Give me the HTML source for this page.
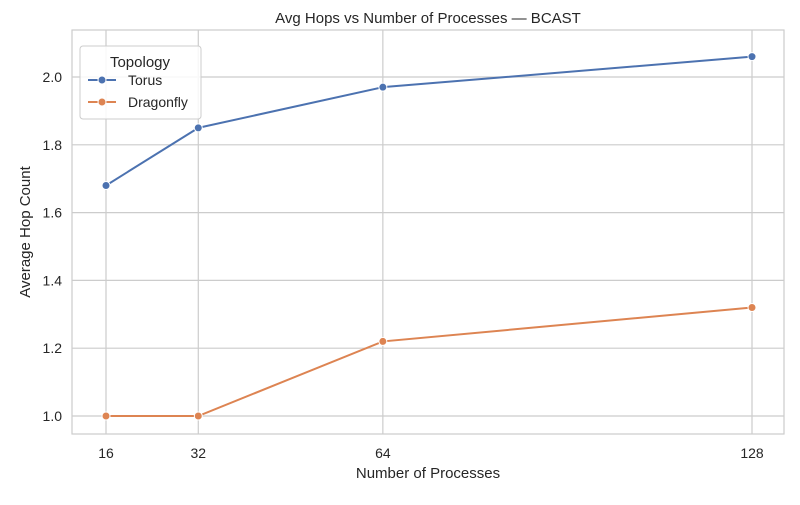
<!DOCTYPE html>
<html><head><meta charset="utf-8"><style>
body{margin:0;background:#fff;font-family:"Liberation Sans","DejaVu Sans",sans-serif;}
svg text{font-family:"Liberation Sans","DejaVu Sans",sans-serif;fill:#262626;}
</style></head><body>
<svg id="chart" width="800" height="500" xmlns="http://www.w3.org/2000/svg">
<rect x="0" y="0" width="800" height="500" fill="#fff"/>
<text x="428" y="23" text-anchor="middle" font-size="15">Avg Hops vs Number of Processes — BCAST</text>
<g id="grid"></g>
<rect x="72" y="30" width="712" height="404" fill="none" stroke="#ccc" stroke-width="1.2"/>
<g id="marks"></g>
<text x="428" y="478" text-anchor="middle" font-size="15">Number of Processes</text>
<text transform="translate(30,232) rotate(-90)" text-anchor="middle" font-size="15">Average Hop Count</text>
<g>
<rect x="80" y="46" width="121" height="73" rx="3" fill="#fff" fill-opacity="0.85" stroke="#ccc"/>
<text x="140" y="67" text-anchor="middle" font-size="15">Topology</text>
<g>
<line x1="88" y1="80" x2="116" y2="80" stroke="#4c72b0" stroke-width="2"/>
<circle cx="102" cy="80" r="4" fill="#4c72b0" stroke="#fff" stroke-width="1"/>
<text x="128" y="85" font-size="14">Torus</text></g>
<g>
<line x1="88" y1="102" x2="116" y2="102" stroke="#dd8452" stroke-width="2"/>
<circle cx="102" cy="102" r="4" fill="#dd8452" stroke="#fff" stroke-width="1"/>
<text x="128" y="107" font-size="14">Dragonfly</text></g>
</g>
</svg>
<script>
const categories=[16,32,64,128];
const torusValues=[1.68,1.85,1.97,2.06];
const dragonflyValues=[1.0,1.0,1.22,1.32];
const yTicks=[1.0,1.2,1.4,1.6,1.8,2.0];
const xTickLabels=["16","32","64","128"];
const NS="http://www.w3.org/2000/svg";
const xs=v=>106+(v-16)*(752-106)/(128-16);
const ys=v=>416-(v-1.0)*339;
const grid=document.getElementById('grid'),marks=document.getElementById('marks');
function mk(tag,attrs,parent){const e=document.createElementNS(NS,tag);for(const k in attrs)e.setAttribute(k,attrs[k]);parent.appendChild(e);return e;}
categories.forEach((c,i)=>{
 const l=mk('line',{x1:xs(c),x2:xs(c),y1:30,y2:434,stroke:'#ccc','stroke-width':1.2},grid);
 
 
 const t=mk('text',{x:xs(c),y:458,'text-anchor':'middle','font-size':14},grid);
 t.textContent=xTickLabels[i];
 
 
});
yTicks.forEach(v=>{
 const l=mk('line',{x1:72,x2:784,y1:ys(v),y2:ys(v),stroke:'#ccc','stroke-width':1.2},grid);
 
 
 const t=mk('text',{x:62,y:ys(v)+5,'text-anchor':'end','font-size':14},grid);
 t.textContent=v.toFixed(1);
 
 
});
function series(vals,color,name){
 const p=mk('polyline',{points:categories.map((c,i)=>xs(c)+','+ys(vals[i])).join(' '),fill:'none',stroke:color,'stroke-width':2},marks);
 
 
 categories.forEach((c,i)=>{
  const m=mk('circle',{cx:xs(c),cy:ys(vals[i]),r:4,fill:color,stroke:'#fff','stroke-width':1},marks);
  
  
 });
}
series(torusValues,'#4c72b0','torus');
series(dragonflyValues,'#dd8452','dragonfly');
</script>
</body></html>
